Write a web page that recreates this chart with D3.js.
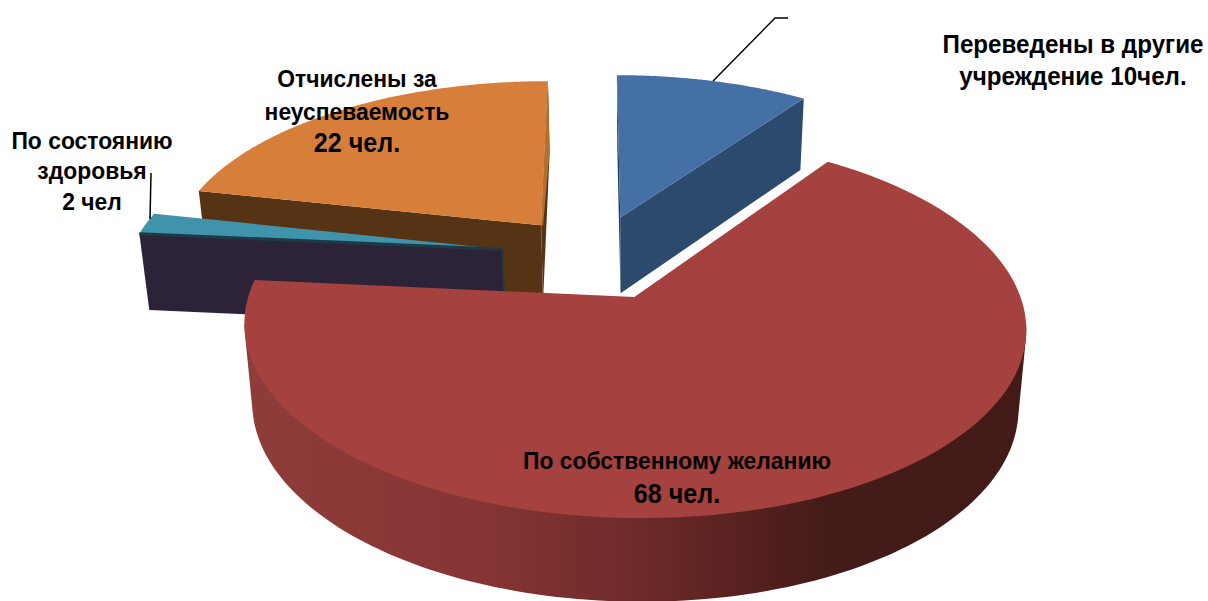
<!DOCTYPE html>
<html><head><meta charset="utf-8">
<script src="https://cdn.jsdelivr.net/npm/d3@7"></script>
<style>html,body{margin:0;background:#fff;overflow:hidden}svg{display:block}
text{font-family:"Liberation Sans",Arial,sans-serif;font-weight:bold;fill:#000}</style></head>
<body><svg id="c" width="1208" height="601"></svg>
<script>
const categories = ["Переведены в другие учреждение", "По собственному желанию", "По состоянию здоровья", "Отчислены за неуспеваемость"];
const values = [10, 68, 2, 22];
const topColors = ["#4570A5", "#A5413F", "#3F94AC", "#D77F3A"];
const cutColors = ["#2C4A6E", "#6E2B2A", "#2C2338", "#573316"];
const sideColors = ["#1E3553", "#6E2B2A", "#1F3A46", "#B46F30"];
const labelLines = [
  ["Переведены в другие", "учреждение 10чел."],
  ["По собственному желанию", "68 чел."],
  ["По состоянию", "здоровья", "2 чел"],
  ["Отчислены за", "неуспеваемость", "22 чел."]
];

const W = 1208, H = 601;
const C = {x: 594, y: 256}, A = 373, B = 174.3, P = 0.15, DEPTH = 77;
const EXPLODES = [0.24, 0.25, 0.25, 0.232];
const svg = d3.select("#c");
const pie = d3.pie().sort(null).startAngle(0).endAngle(2 * Math.PI);
const arcs = pie(values);

function project(u, v, z = 0) {
  const w = 1 + P * v;
  const d = z * DEPTH * (1 - 0.07 * v);
  const x = C.x + A * u / w;
  return [x + (635 - x) * 0.02 * z, C.y - B * v / w + d];
}
function apex(a) {
  const m = (a.startAngle + a.endAngle) / 2, e = EXPLODES[a.index];
  return [e * Math.sin(m), e * Math.cos(m)];
}
function outer(a, t, z = 0) {
  const [ax, ay] = apex(a);
  return project(ax + Math.sin(t), ay + Math.cos(t), z);
}
function centre(a, z = 0) { const [ax, ay] = apex(a); return project(ax, ay, z); }
const line = d3.line();
function rim(a, z = 0, t0 = a.startAngle, t1 = a.endAngle) {
  const n = 120;
  return d3.range(n + 1).map(i => outer(a, t0 + (t1 - t0) * i / n, z));
}
function topFace(a) { return [centre(a), ...rim(a)]; }
function cutFace(a, t) { return [centre(a), outer(a, t), outer(a, t, 1), centre(a, 1)]; }

const defs = svg.append("defs");
const grad = defs.append("linearGradient").attr("id", "wall")
  .attr("gradientUnits", "userSpaceOnUse").attr("x1", 245).attr("x2", 1025).attr("y1", 0).attr("y2", 0);
[[0, "#8F3D3A"], [0.3, "#853534"], [0.5, "#6E2B2A"], [0.62, "#5A2220"], [0.75, "#431B18"], [1, "#421A18"]]
  .forEach(([o, c]) => grad.append("stop").attr("offset", o).attr("stop-color", c));

const g = svg.append("g");
function poly(points, fill) { return g.append("path").attr("d", line(points) + "Z").attr("fill", fill); }

// orange (index 3)
{
  const a = arcs[3];
  poly(cutFace(a, a.startAngle), cutColors[3]);
  const e = a.endAngle;
  poly([outer(a, e), outer(a, e, 1), centre(a, 1), centre(a)], cutColors[3]);
  poly([outer(a, e), outer(a, e, 1), [centre(a, 1)[0], centre(a)[1]], centre(a)], sideColors[3]);
  poly(topFace(a), topColors[3]);
}
// blue (index 0)
{
  const a = arcs[0];
  poly(cutFace(a, a.startAngle), sideColors[0]);
  poly(cutFace(a, a.endAngle), cutColors[0]);
  poly(topFace(a), topColors[0]);
}
// teal (index 2)
{
  const a = arcs[2];
  poly(cutFace(a, a.startAngle), cutColors[2]);
  const c0 = centre(a), c1 = centre(a, 1);
  g.append("path").attr("d", line([c0, c1])).attr("stroke", "#1F3A46").attr("stroke-width", 2).attr("fill", "none");
  poly(topFace(a), topColors[2]);
  g.append("path").attr("d", line([c0, outer(a, a.startAngle)]))
    .attr("stroke", "#1F3A46").attr("stroke-width", 3).attr("fill", "none");
}
// red (index 1): the wall is the hull of the front rim and its lowered copy
{
  const a = arcs[1];
  const t0 = Math.PI / 2 + 0.14, t1 = 1.5 * Math.PI - 0.14;
  const hull = d3.polygonHull([...rim(a, 0, t0, t1), ...rim(a, 1, t0, t1)]);
  poly(hull, "url(#wall)");
  poly(topFace(a), topColors[1]);
}

// leader lines
const blueAnchor = outer(arcs[0], arcs[0].startAngle + 0.5 * (arcs[0].endAngle - arcs[0].startAngle));
svg.append("path").attr("fill", "none").attr("stroke", "#000").attr("stroke-width", 1.5)
  .attr("d", line([blueAnchor, [775, 18], [788, 18]]));
svg.append("path").attr("fill", "none").attr("stroke", "#000").attr("stroke-width", 1.5)
  .attr("d", line([[150, 219], [151, 173]]));

// labels
const labelLayout = [
  {x: 1073, ys: [53, 85], sizes: [26, 26]},
  {x: 677, ys: [469, 503], sizes: [24.6, 27]},
  {x: 92, ys: [149, 179, 210], sizes: [24.6, 24.6, 24.6]},
  {x: 357, ys: [87, 120, 152], sizes: [24.6, 24.6, 27]}
];
labelLayout.forEach((p, i) => {
  labelLines[i].forEach((s, j) => {
    svg.append("text").attr("x", p.x).attr("y", p.ys[j])
      .attr("text-anchor", "middle").attr("font-size", p.sizes[j])
      .attr("transform", `translate(${p.x},0) scale(0.93,1) translate(${-p.x},0)`)
      .text(s);
  });
});
</script></body></html>
